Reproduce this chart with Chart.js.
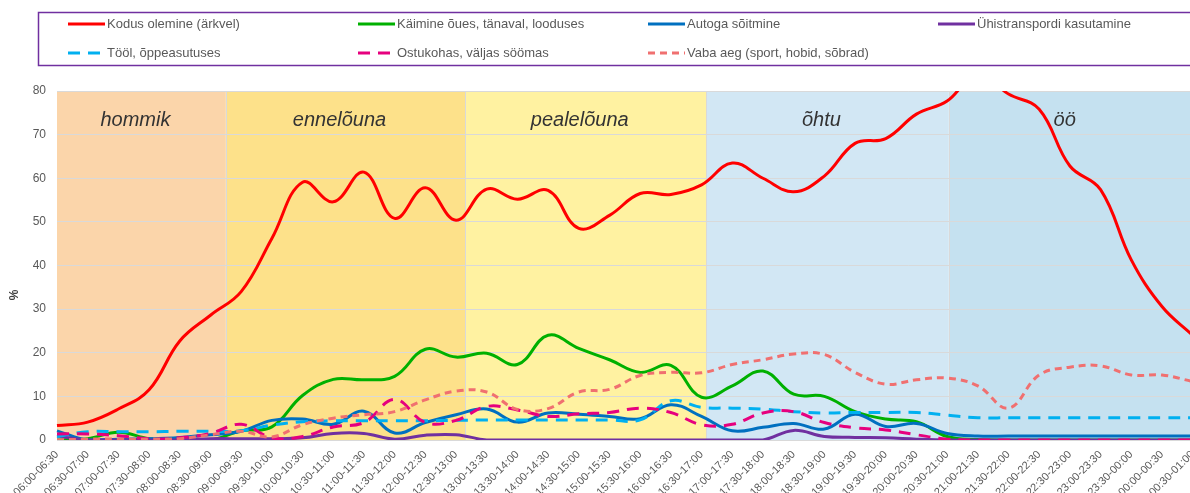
<!DOCTYPE html>
<html>
<head>
<meta charset="utf-8">
<script src="https://cdn.jsdelivr.net/npm/chart.js@4"></script>
<style>
  html, body { margin: 0; padding: 0; background: #fff; overflow: hidden; }
  #wrap { width: 1190px; height: 493px; overflow: hidden; }
  canvas { display: block; }
</style>
</head>
<body>
<div id="wrap"><canvas id="activityChart" width="1210" height="493"></canvas></div>
<script>
// Ajakasutus pooltundide kaupa (%)
const timeSlots = [
  '06:00-06:30', '06:30-07:00', '07:00-07:30', '07:30-08:00', '08:00-08:30', '08:30-09:00',
  '09:00-09:30', '09:30-10:00', '10:00-10:30', '10:30-11:00', '11:00-11:30', '11:30-12:00',
  '12:00-12:30', '12:30-13:00', '13:00-13:30', '13:30-14:00', '14:00-14:30', '14:30-15:00',
  '15:00-15:30', '15:30-16:00', '16:00-16:30', '16:30-17:00', '17:00-17:30', '17:30-18:00',
  '18:00-18:30', '18:30-19:00', '19:00-19:30', '19:30-20:00', '20:00-20:30', '20:30-21:00',
  '21:00-21:30', '21:30-22:00', '22:00-22:30', '22:30-23:00', '23:00-23:30', '23:30-00:00',
  '00:00-00:30', '00:30-01:00'
];

const kodus = [3.3, 4.1, 7.1, 11.5, 22.7, 28.6, 34.0, 46.2, 59.1, 54.6, 61.4, 50.8, 57.8, 50.4, 57.5, 55.2, 57.2, 48.5, 51.5, 56.5,
  56.3, 58.5, 63.5, 60.0, 56.9, 60.5, 68.0, 69.1, 74.7, 77.7, 84.0, 79.3, 75.8, 62.8, 57.4, 41.3, 30.6, 24.0];
const kaimine = [0, 0.3, 1.8, 0.3, 0, 0, 2.1, 3.0, 10.2, 13.9, 13.8, 14.6, 20.8, 19.0, 19.9, 17.3, 24.0, 21.0, 18.4, 15.5,
  17.1, 9.8, 12.4, 15.8, 10.5, 10.0, 6.5, 4.8, 4.2, 0.8, 0.1, 0, 0, 0, 0, 0, 0, 0];
const autoga = [2.1, 0, 0.2, 0.3, 0.6, 1.2, 2.0, 4.5, 4.8, 3.6, 6.6, 1.6, 4.0, 5.8, 7.1, 4.1, 6.2, 5.9, 5.4, 4.9,
  8.1, 5.4, 2.1, 2.9, 3.8, 2.5, 5.9, 3.1, 3.8, 1.5, 0.9, 0.9, 0.9, 0.9, 0.9, 0.9, 0.9, 0.9];
const uhistransport = [0.9, 0, 0, 0, 0, 0.3, 0.3, 0.3, 0.5, 1.5, 1.5, 0.2, 1.1, 1.2, 0, 0, 0, 0, 0, 0,
  0, 0, 0, 0, 2.2, 0.8, 0.6, 0.5, 0.2, 0, 0, 0, 0, 0, 0, 0, 0, 0];
const tool = [0.8, 1.9, 1.9, 1.9, 2.0, 2.0, 2.1, 3.4, 4.2, 4.4, 4.4, 4.4, 4.4, 4.5, 4.6, 4.6, 4.6, 4.6, 4.6, 4.6,
  9.0, 7.5, 7.3, 7.1, 6.5, 6.2, 6.3, 6.3, 6.3, 5.7, 5.1, 5.1, 5.1, 5.1, 5.1, 5.1, 5.1, 5.1];
const ostukohas = [1.4, 1.4, 1.0, 0.3, 0.5, 1.5, 3.6, 0.5, 0.8, 3.0, 4.0, 9.3, 4.0, 4.5, 7.7, 6.9, 5.4, 6.0, 6.3, 7.3,
  6.3, 3.5, 3.6, 6.2, 6.5, 4.0, 2.8, 2.3, 1.2, 0.2, 0, 0, 0, 0, 0, 0, 0, 0];
const vabaAeg = [0, 0.2, 0.2, 0.2, 0.3, 1.2, 2.0, 0.7, 3.5, 5.0, 5.8, 6.5, 9.2, 11.2, 11.0, 7.0, 7.2, 11.0, 11.6, 14.8,
  15.5, 15.4, 17.3, 18.4, 19.7, 19.6, 15.5, 12.8, 13.8, 14.2, 12.4, 7.3, 14.9, 16.7, 17.0, 14.9, 14.9, 13.4];

const yTicks = [0, 10, 20, 30, 40, 50, 60, 70, 80];

// päeva osad (algus/lõpp kategooria indeksina)
const dayParts = ['hommik', 'ennelõuna', 'pealelõuna', 'õhtu', 'öö'];
const dayPartStart = [0, 5.5, 13.3, 21.15, 29.05];
const dayPartEnd = [5.5, 13.3, 21.15, 29.05, 37];
const dayPartColors = ['#FBD5AA', '#FDE18A', '#FFF2A1', '#D2E7F4', '#C5E1F0'];

const FONT = "'Liberation Sans', Arial, sans-serif";
Chart.defaults.font.family = FONT;

const dayPartsPlugin = {
  id: 'dayParts',
  beforeDraw(chart) {
    const { ctx, chartArea: a, scales: { x } } = chart;
    ctx.save();
    dayParts.forEach((name, i) => {
      const x0 = i === 0 ? a.left : x.getPixelForValue(dayPartStart[i]);
      const x1 = i === dayParts.length - 1 ? chart.width : x.getPixelForValue(dayPartEnd[i]);
      ctx.fillStyle = dayPartColors[i];
      ctx.fillRect(x0, a.top, x1 - x0, a.bottom - a.top);
    });
    ctx.strokeStyle = '#D9D9D9';
    ctx.lineWidth = 1;
    for (let i = 1; i < dayParts.length; i++) {
      const px = Math.round(x.getPixelForValue(dayPartStart[i])) + 0.5;
      ctx.beginPath();
      ctx.moveTo(px, a.top);
      ctx.lineTo(px, a.bottom);
      ctx.stroke();
    }
    ctx.fillStyle = '#333333';
    ctx.font = 'italic 20px ' + FONT;
    ctx.textAlign = 'center';
    ctx.textBaseline = 'middle';
    dayParts.forEach((name, i) => {
      const x0 = i === 0 ? a.left : x.getPixelForValue(dayPartStart[i]);
      const x1 = x.getPixelForValue(dayPartEnd[i]);
      ctx.fillText(name, (x0 + x1) / 2 - 6, a.top + 29);
    });
    ctx.restore();
  }
};

const legendPlugin = {
  id: 'boxLegend',
  afterDraw(chart) {
    const { ctx } = chart;
    ctx.save();
    ctx.strokeStyle = '#7030A0';
    ctx.lineWidth = 1.5;
    ctx.strokeRect(38.5, 12.5, chart.width, 53);
    ctx.font = '13px ' + FONT;
    ctx.textBaseline = 'middle';
    ctx.textAlign = 'left';
    chart.data.datasets.forEach((ds, i) => {
      const col = i % 4;
      const row = Math.floor(i / 4);
      const lx = 68 + col * 290;
      const ly = 24 + row * 29;
      ctx.strokeStyle = ds.borderColor;
      ctx.lineWidth = 3;
      ctx.setLineDash(ds.borderDash || []);
      ctx.beginPath();
      ctx.moveTo(lx, ly);
      ctx.lineTo(lx + 37, ly);
      ctx.stroke();
      ctx.setLineDash([]);
      ctx.fillStyle = '#595959';
      ctx.fillText(ds.label, lx + 39, ly);
    });
    // y-telje pealkiri
    ctx.translate(15, 295);
    ctx.rotate(-Math.PI / 2);
    ctx.font = 'bold 12px ' + FONT;
    ctx.fillStyle = '#404040';
    ctx.textAlign = 'center';
    ctx.fillText('%', 0, 0);
    ctx.restore();
  }
};

function line(label, data, color, dash, order) {
  return {
    label, data,
    borderColor: color,
    backgroundColor: color,
    borderWidth: 3,
    borderDash: dash,
    pointRadius: 0,
    tension: 0.4,
    fill: false,
    order
  };
}

new Chart(document.getElementById('activityChart'), {
  type: 'line',
  data: {
    labels: timeSlots,
    datasets: [
      line('Kodus olemine (ärkvel)', kodus, '#FF0000', [], 7),
      line('Käimine õues, tänaval, looduses', kaimine, '#00B000', [], 6),
      line('Autoga sõitmine', autoga, '#0070C0', [], 5),
      line('Ühistranspordi kasutamine', uhistransport, '#7030A0', [], 4),
      line('Tööl, õppeasutuses', tool, '#00B0F0', [12, 8], 3),
      line('Ostukohas, väljas söömas', ostukohas, '#E6007E', [12, 8], 2),
      line('Vaba aeg (sport, hobid, sõbrad)', vabaAeg, '#F07070', [7, 5], 1)
    ]
  },
  options: {
    responsive: false,
    animation: false,
    devicePixelRatio: 1,
    layout: { padding: { top: 91, right: 17, bottom: 0, left: 0 } },
    plugins: {
      legend: { display: false },
      tooltip: { enabled: false }
    },
    scales: {
      x: {
        offset: false,
        grid: { display: false, drawTicks: false },
        border: { display: true, color: '#D9D9D9', width: 1 },
        ticks: {
          autoSkip: false,
          maxRotation: 45,
          minRotation: 45,
          padding: 8,
          color: '#595959',
          font: { size: 11 }
        },
        afterFit(scale) { scale.height = 53; }
      },
      y: {
        min: 0,
        max: 80,
        afterBuildTicks(scale) { scale.ticks = yTicks.map(v => ({ value: v })); },
        grid: { color: '#D9D9D9', drawTicks: false },
        border: { display: false },
        ticks: { padding: 11, color: '#595959', font: { size: 12 } },
        afterFit(scale) { scale.width = 57; }
      }
    }
  },
  plugins: [dayPartsPlugin, legendPlugin]
});
</script>
</body>
</html>
